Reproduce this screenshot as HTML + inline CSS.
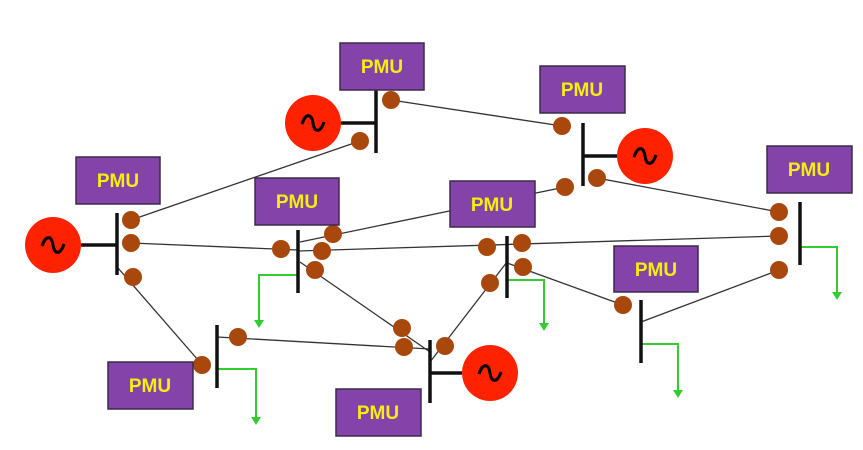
<!DOCTYPE html>
<html><head><meta charset="utf-8"><style>
html,body{margin:0;padding:0;background:#fff;width:863px;height:450px;overflow:hidden}
svg{display:block}
.p rect{fill:#8343a8;stroke:#3d2a4a;stroke-width:1.5}
.p text{fill:#f5ef10;font-family:"Liberation Sans",sans-serif;font-weight:bold;font-size:19px;text-anchor:middle}
</style></head><body>
<svg width="863" height="450" viewBox="0 0 863 450">
<defs>
<marker id="ar" viewBox="0 0 10 10" refX="5" refY="8" markerWidth="7" markerHeight="7" orient="auto-start-reverse"><path d="M0,0 L10,0 L5,9 z" fill="#33cc33" transform="rotate(-90 5 5) rotate(90 5 5)"/></marker>
</defs>
<!-- lines -->
<g stroke="#333" stroke-width="1.3" fill="none">
<line x1="391" y1="100" x2="562" y2="126"/>
<line x1="360" y1="141" x2="131" y2="220"/>
<line x1="131" y1="243" x2="298" y2="250"/>
<line x1="118" y1="268" x2="205" y2="368"/>
<line x1="300" y1="242" x2="565" y2="187"/>
<line x1="298" y1="251" x2="779" y2="236"/>
<line x1="300" y1="262" x2="430" y2="352"/>
<line x1="217" y1="337" x2="430" y2="349"/>
<line x1="597" y1="178" x2="779" y2="212"/>
<line x1="507" y1="263" x2="623" y2="305"/>
<line x1="641" y1="322" x2="779" y2="270"/>
<line x1="507" y1="262" x2="430" y2="362"/>
</g>
<!-- green loads -->
<g stroke="#3c3" stroke-width="2" fill="none">
<polyline points="298,275 259,275 259,322"/>
<polyline points="217,369 256,369 256,419"/>
<polyline points="507,280 544,280 544,325"/>
<polyline points="641,344 678,344 678,392"/>
<polyline points="800,247 837,247 837,294"/>
</g>
<g fill="#3c3">
<path d="M254,320 L264,320 L259,328z"/>
<path d="M251,417 L261,417 L256,425z"/>
<path d="M539,323 L549,323 L544,331z"/>
<path d="M673,390 L683,390 L678,398z"/>
<path d="M832,292 L842,292 L837,300z"/>
</g>
<!-- buses & gen links -->
<g stroke="#111" stroke-width="3.5">
<line x1="376" y1="90" x2="376" y2="153"/><line x1="341" y1="123" x2="376" y2="123"/>
<line x1="117" y1="213" x2="117" y2="275"/><line x1="81" y1="245" x2="117" y2="245"/>
<line x1="298" y1="230" x2="298" y2="293"/>
<line x1="217" y1="325" x2="217" y2="388"/>
<line x1="583" y1="123" x2="583" y2="186"/><line x1="583" y1="156" x2="617" y2="156"/>
<line x1="800" y1="202" x2="800" y2="265"/>
<line x1="507" y1="236" x2="507" y2="298"/>
<line x1="641" y1="300" x2="641" y2="363"/>
<line x1="430" y1="340" x2="430" y2="403"/><line x1="430" y1="373" x2="462" y2="373"/>
</g>
<!-- generators -->
<g>
<circle cx="313" cy="123" r="28" fill="#ff2200"/>
<circle cx="53" cy="245" r="28" fill="#ff2200"/>
<circle cx="645" cy="156" r="28" fill="#ff2200"/>
<circle cx="490" cy="373" r="28" fill="#ff2200"/>
</g>
<g stroke="#000" stroke-width="3" fill="none">
<path d="M302,124 C306,112 312,114 313,123 C314,132 320,134 324,122"/>
<path d="M42,246 C46,234 52,236 53,245 C54,254 60,256 64,244"/>
<path d="M634,157 C638,145 644,147 645,156 C646,165 652,167 656,155"/>
<path d="M479,374 C483,362 489,364 490,373 C491,382 497,384 501,372"/>
</g>
<!-- dots -->
<g fill="#a8480c">
<circle cx="391" cy="100" r="9"/><circle cx="360" cy="141" r="9"/>
<circle cx="131" cy="220" r="9"/><circle cx="131" cy="243" r="9"/><circle cx="133" cy="277" r="9"/>
<circle cx="281" cy="249" r="9"/><circle cx="333" cy="234" r="9"/><circle cx="322" cy="251" r="9"/><circle cx="315" cy="270" r="9"/>
<circle cx="238" cy="337" r="9"/><circle cx="202" cy="365" r="9"/>
<circle cx="402" cy="328" r="9"/><circle cx="404" cy="347" r="9"/><circle cx="445" cy="346" r="9"/>
<circle cx="562" cy="126" r="9"/><circle cx="565" cy="187" r="9"/><circle cx="597" cy="178" r="9"/>
<circle cx="779" cy="212" r="9"/><circle cx="779" cy="236" r="9"/><circle cx="779" cy="270" r="9"/>
<circle cx="487" cy="247" r="9"/><circle cx="522" cy="243" r="9"/><circle cx="523" cy="267" r="9"/><circle cx="490" cy="283" r="9"/>
<circle cx="623" cy="305" r="9"/>
</g>
<!-- PMUs -->
<g class="p">
<rect x="340" y="43" width="84" height="47"/><text x="382" y="73">PMU</text>
<rect x="76" y="157" width="84" height="47"/><text x="118" y="187">PMU</text>
<rect x="255" y="178" width="84" height="47"/><text x="297" y="208">PMU</text>
<rect x="108" y="362" width="85" height="47"/><text x="150" y="392">PMU</text>
<rect x="336" y="389" width="85" height="47"/><text x="378" y="419">PMU</text>
<rect x="540" y="66" width="85" height="47"/><text x="582" y="96">PMU</text>
<rect x="450" y="181" width="85" height="46"/><text x="492" y="211">PMU</text>
<rect x="767" y="146" width="85" height="47"/><text x="809" y="176">PMU</text>
<rect x="614" y="246" width="84" height="46"/><text x="656" y="276">PMU</text>
</g>
</svg>
</body></html>
